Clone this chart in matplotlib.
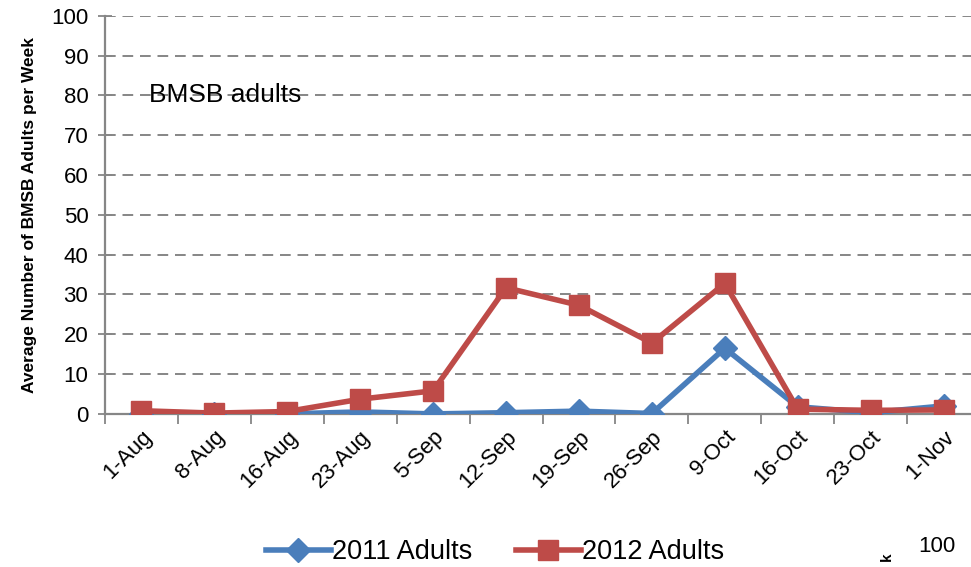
import matplotlib.pyplot as plt
import numpy as np

plt.rcParams['font.family'] = ['Liberation Sans', 'DejaVu Sans']

# weekly sample dates
dates = ['1-Aug', '8-Aug', '16-Aug', '23-Aug', '5-Sep', '12-Sep', '19-Sep',
         '26-Sep', '9-Oct', '16-Oct', '23-Oct', '1-Nov']
adults_2011 = [0.0, 0.0, 0.0, 0.5, 0.0, 0.3, 0.7, 0.1, 16.5, 1.8, 0.3, 2.0]
adults_2012 = [0.8, 0.2, 0.6, 3.7, 5.8, 31.7, 27.3, 17.8, 32.8, 1.2, 0.9, 1.0]

blue = '#4a7ebb'
red = '#be4b48'
grey = '#868686'

fig = plt.figure(figsize=(9.71, 5.67), dpi=100)
ax = fig.add_axes([105 / 971, 0.27, 875 / 971, 0.702])

x = np.arange(len(dates))
ax.plot(x, adults_2011, color=blue, lw=4, marker='D', ms=12,
        label='2011 Adults', zorder=3)
ax.plot(x, adults_2012, color=red, lw=4, marker='s', ms=14.5,
        label='2012 Adults', zorder=4)

ax.set_xlim(-0.5, len(dates) - 0.5)
ax.set_ylim(0, 100)
ax.set_yticks(range(0, 101, 10))
ax.tick_params(axis='y', labelsize=16, direction='inout', length=10,
               color=grey, width=1.3, pad=7)
ax.yaxis.grid(True, linestyle=(0, (5.5, 3.5)), color=grey, lw=1.4)
ax.set_axisbelow(True)

ax.set_xticks(x)
ax.set_xticklabels(dates, rotation=45, ha='right', rotation_mode='anchor',
                   fontsize=16)
ax.tick_params(axis='x', length=0, pad=9)
ax.set_xticks(np.arange(-0.5, len(dates), 1), minor=True)
ax.tick_params(axis='x', which='minor', length=7, color=grey, width=1.3,
               direction='out')

for s in ['top', 'right']:
    ax.spines[s].set_visible(False)
for s in ['left', 'bottom']:
    ax.spines[s].set_color(grey)
    ax.spines[s].set_linewidth(1.6)

ax.set_ylabel('Average Number of BMSB Adults per Week', fontsize=12.5,
              fontweight='bold', labelpad=10)
ax.text(0.1, 80, 'BMSB adults', fontsize=19, va='center')

fig.legend(loc='center', bbox_to_anchor=(495 / 971, 1 - 552 / 567), ncol=2,
           frameon=False, fontsize=19.5, handlelength=2.4, columnspacing=1.6,
           handletextpad=0.05)

# clipped leftovers at the bottom right
fig.text(918 / 971, 1 - 546 / 567, '100', fontsize=16, va='center')
fig.text(880 / 971, 1 - 557 / 567, 'k', fontsize=11, fontweight='bold',
         rotation=90, va='center')

fig.savefig('out.png', dpi=100)
